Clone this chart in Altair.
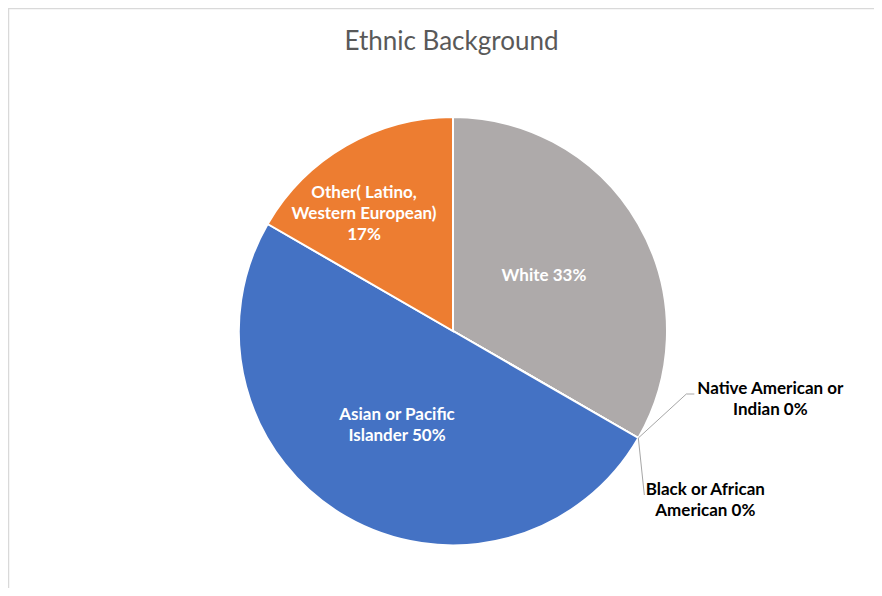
import math
import altair as alt
import pandas as pd

# ---- data ----
categories = [
    "White",
    "Native American or Indian",
    "Black or African American",
    "Asian or Pacific Islander",
    "Other( Latino, Western European)",
]
counts = [2, 0, 0, 3, 1]
wrapped_names = [
    "White",
    "Native American or\nIndian",
    "Black or African\nAmerican",
    "Asian or Pacific\nIslander",
    "Other( Latino,\nWestern European)\n",
]
colors = ["#AEAAAA", "#FFC000", "#5B9BD5", "#4472C4", "#ED7D31"]

total = sum(counts)
pcts = [round(100 * c / total) for c in counts]
labels = [
    (n + f"{p}%") if n.endswith("\n") else (n + f" {p}%")
    for n, p in zip(wrapped_names, pcts)
]

df = pd.DataFrame(
    {
        "category": categories,
        "count": counts,
        "label": labels,
        "ord": list(range(len(categories))),
    }
)

# ---- geometry ----
W, H = 866, 580
CX, CY, R = 445, 323, 214
FONT = "Lato"

base = alt.Chart(df).encode(
    theta=alt.Theta("count:Q", stack=True),
    order=alt.Order("ord:Q"),
    x=alt.value(CX),
    y=alt.value(CY),
)

pie = base.mark_arc(radius=R, stroke="white", strokeWidth=2).encode(
    color=alt.Color(
        "category:N",
        scale=alt.Scale(domain=categories, range=colors),
        legend=None,
    )
)


def label_layer(cat, radius, color, dx=0, dy=0):
    return base.mark_text(
        radius=radius,
        font=FONT,
        fontWeight="bold",
        fontSize=17,
        color=color,
        dx=dx,
        dy=dy,
        lineBreak="\n",
        lineHeight=21,
        align="center",
        baseline="middle",
    ).encode(
        text=alt.condition(
            alt.datum.category == cat, alt.Text("label:N"), alt.value("")
        )
    )


lbl_white = label_layer(categories[0], 105, "white", dy=-3)
lbl_asian = label_layer(categories[3], 110, "white", dx=-1, dy=-11)
lbl_other = label_layer(categories[4], 162, "white", dx=-8, dy=2)
lbl_native = label_layer(categories[1], R, "#000000", dx=132, dy=-49)
lbl_black = label_layer(categories[2], R, "#000000", dx=67, dy=52)

# leader lines from the zero-width slice boundary on the rim
ang = 2 * math.pi * counts[0] / total
px = CX + R * math.sin(ang)
py = CY - R * math.cos(ang)
seg = pd.DataFrame({"k": [0]})
lead_style = dict(color="#A6A6A6", strokeWidth=1)
lead1 = alt.Chart(seg).mark_rule(**lead_style).encode(
    x=alt.value(px), y=alt.value(py), x2=alt.value(px + 48), y2=alt.value(py - 44)
)
lead2 = alt.Chart(seg).mark_rule(**lead_style).encode(
    x=alt.value(px + 48), y=alt.value(py - 44), x2=alt.value(px + 56), y2=alt.value(py - 44)
)
lead3 = alt.Chart(seg).mark_rule(**lead_style).encode(
    x=alt.value(px), y=alt.value(py), x2=alt.value(px + 6), y2=alt.value(py + 57)
)

# frame (top and left edges visible)
frame_top = alt.Chart(seg).mark_rule(color="#D9D9D9", strokeWidth=1.5).encode(
    x=alt.value(0), x2=alt.value(W), y=alt.value(0.5)
)
frame_left = alt.Chart(seg).mark_rule(color="#D9D9D9", strokeWidth=1.5).encode(
    x=alt.value(0.5), y=alt.value(0), y2=alt.value(H)
)

title = alt.Chart(pd.DataFrame({"t": ["Ethnic Background"]})).mark_text(
    font=FONT, fontSize=26, color="#595959", align="center", baseline="middle"
).encode(text="t:N", x=alt.value(443.5), y=alt.value(34))

chart = (
    alt.layer(
        frame_top,
        frame_left,
        title,
        pie,
        lead1,
        lead2,
        lead3,
        lbl_white,
        lbl_asian,
        lbl_other,
        lbl_native,
        lbl_black,
    )
    .properties(width=W, height=H, padding=0, autosize=alt.AutoSizeParams(type="none"))
    .configure_view(stroke=None)
)

chart.save("out.html", embed_options={"renderer": "svg", "actions": False})
